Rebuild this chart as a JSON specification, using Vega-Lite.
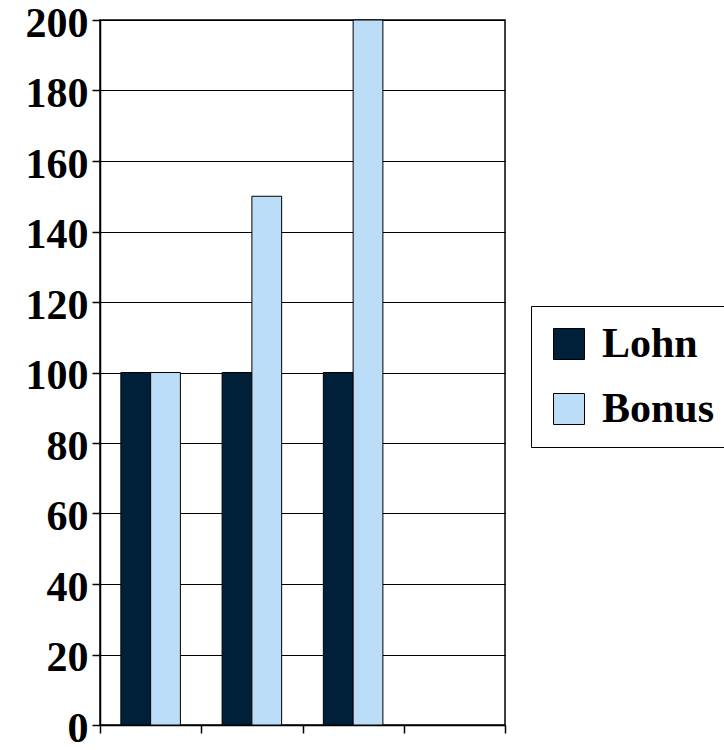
{
  "$schema": "https://vega.github.io/schema/vega-lite/v6.json",
  "autosize": "none",
  "width": 405,
  "height": 705,
  "padding": {"left": 100, "top": 20, "right": 219, "bottom": 25},
  "background": "white",
  "config": {
    "font": "Liberation Serif",
    "view": {"stroke": "black", "strokeWidth": 1.5}
  },
  "data": {
    "values": [
      {"Kategorie": "1", "Reihe": "Lohn", "Wert": 100},
      {"Kategorie": "1", "Reihe": "Bonus", "Wert": 100},
      {"Kategorie": "2", "Reihe": "Lohn", "Wert": 100},
      {"Kategorie": "2", "Reihe": "Bonus", "Wert": 150},
      {"Kategorie": "3", "Reihe": "Lohn", "Wert": 100},
      {"Kategorie": "3", "Reihe": "Bonus", "Wert": 200}
    ]
  },
  "mark": {"type": "bar", "stroke": "black", "strokeWidth": 1},
  "encoding": {
    "x": {
      "field": "Kategorie",
      "type": "nominal",
      "scale": {"domain": ["1", "2", "3", "4"], "paddingInner": 0, "paddingOuter": 0},
      "axis": {
        "title": null,
        "labels": false,
        "domainColor": "black",
        "domainWidth": 1.5,
        "tickColor": "black",
        "tickWidth": 1.5,
        "tickSize": 8,
        "tickBand": "extent"
      }
    },
    "xOffset": {
      "field": "Reihe",
      "type": "nominal",
      "sort": ["Lohn", "Bonus"],
      "scale": {"paddingInner": 0, "paddingOuter": 0.7}
    },
    "y": {
      "field": "Wert",
      "type": "quantitative",
      "scale": {"domain": [0, 200], "nice": false},
      "axis": {
        "title": null,
        "values": [0, 20, 40, 60, 80, 100, 120, 140, 160, 180, 200],
        "labelFont": "Liberation Serif",
        "labelFontWeight": "bold",
        "labelFontSize": 42,
        "labelColor": "black",
        "labelPadding": 4,
        "labelBaseline": "middle",
        "labelFlush": false,
        "labelOffset": 3,
        "tickSize": 8,
        "tickColor": "black",
        "tickWidth": 1.5,
        "domainColor": "black",
        "domainWidth": 1.5,
        "grid": true,
        "gridColor": "black",
        "gridWidth": 1.2
      }
    },
    "color": {
      "field": "Reihe",
      "type": "nominal",
      "sort": ["Lohn", "Bonus"],
      "scale": {"domain": ["Lohn", "Bonus"], "range": ["#00203a", "#bbddf7"]},
      "legend": {
        "title": null,
        "orient": "none",
        "legendX": 431,
        "legendY": 286,
        "strokeColor": "black",
        "padding": 17,
        "symbolType": "square",
        "symbolSize": 961,
        "symbolStrokeColor": "black",
        "symbolStrokeWidth": 1,
        "labelFont": "Liberation Serif",
        "labelFontWeight": "bold",
        "labelFontSize": 42,
        "labelColor": "black",
        "labelOffset": 12,
        "labelLimit": 300,
        "rowPadding": 23
      }
    }
  }
}
